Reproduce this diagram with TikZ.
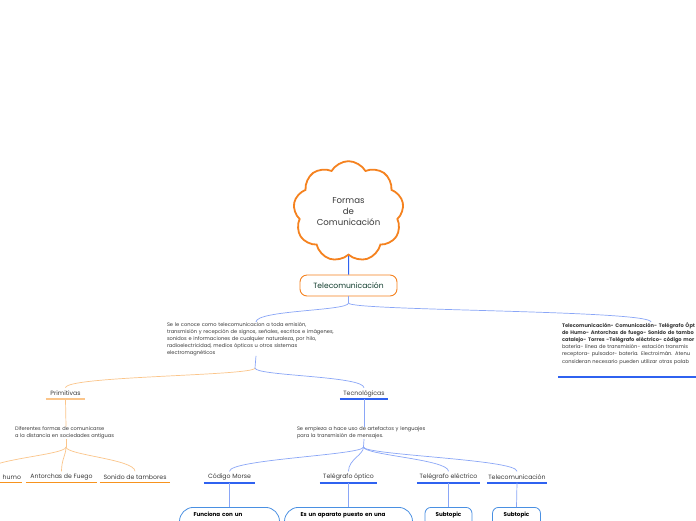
\documentclass[tikz,border=0pt]{standalone}
\usepackage{fontspec}
\setmainfont{Poppins}
\usetikzlibrary{shapes.symbols}
\definecolor{orng}{HTML}{F5821F}
\definecolor{lorng}{HTML}{FBC58A}
\definecolor{uorng}{HTML}{F7931E}
\definecolor{blu}{HTML}{2F62F0}
\definecolor{lblu}{HTML}{8AA6F7}
\definecolor{bxblu}{HTML}{4A90E2}
\definecolor{txt}{HTML}{3A3A3A}
\definecolor{dgreen}{HTML}{0E3B2B}
\tikzset{
  lb/.style={draw=lblu, line width=0.7pt},
  lo/.style={draw=lorng, line width=0.7pt},
  desc/.style={text width=#1, align=left, inner sep=0pt, text=txt, font=\fontsize{5.1}{7}\selectfont},
  topic/.style={inner sep=0pt, minimum height=11pt, text=txt, font=\fontsize{6.2}{7}\selectfont},
  ulb/.style={append after command={(\tikzlastnode.south west) edge[draw=blu, line width=1.6pt] (\tikzlastnode.south east)}},
  ulo/.style={append after command={(\tikzlastnode.south west) edge[draw=uorng, line width=1.5pt] (\tikzlastnode.south east)}},
  ullo/.style={append after command={(\tikzlastnode.south west) edge[draw=lorng, line width=1.5pt] (\tikzlastnode.south east)}},
  leaf/.style={draw=bxblu, line width=0.8pt, fill=white, anchor=north, inner ysep=4pt, text height=5pt, text depth=22pt, text=black, font=\fontsize{5.6}{7}\selectfont\bfseries},
}
\begin{document}
\begin{tikzpicture}[x=1pt,y=-1pt]
\useasboundingbox (0,0) rectangle (696,520);
\clip (0,0) rectangle (696,520);
\fill[white] (0,0) rectangle (696,520);

% root and main topic
\node[cloud, cloud puffs=9, cloud puff arc=120, aspect=1.15, draw=orng, line width=1.8pt, fill=white,
      minimum width=96pt, minimum height=80pt, align=center, text=txt,
      font=\fontsize{8.6}{11}\selectfont] (root) at (348.5,211.5) {Formas\\de\\Comunicación};
\node[rounded corners=7pt, draw=orng, line width=0.9pt, fill=white, minimum width=97pt, minimum height=21pt,
      text=dgreen, font=\fontsize{7.6}{9}\selectfont] (tele) at (348.5,285.5) {Telecomunicación};
\draw[draw=blu, line width=1pt] (root.south) -- (tele.north);

% descriptions level 1
\node[desc=178pt, anchor=north] (d1) at (256,322) {Se le conoce como telecomunicacion a toda emisión,\\
transmisión y recepción de signos, señales, escritos e imágenes,\\
sonidos e informaciones de cualquier naturaleza, por hilo,\\
radioelectricidad, medios ópticos u otros sistemas\\
electromagnéticos};
\node[desc=178pt, anchor=north, font=\fontsize{5.1}{7.2}\selectfont] (d4) at (651,322) {{\bfseries Telecomunicación- Comunicación- Telégrafo Ópt\\
de Humo- Antorchas de fuego- Sonido de tambo\\
catalejo- Torres -Telégrafo eléctrico- código mor}\\
batería- línea de transmisión- estación transmis\\
receptora- pulsador- batería. Electroimán. Atenu\\
consideran necesario pueden utilizar otras palab};
\draw[draw=blu, line width=2pt] (558,377) -- (700,377);

\coordinate (j1) at (348.5,303);
\draw[lb] (tele.south) -- (j1);
\draw[lb] (j1) .. controls +(0,8) and +(0,-12) .. (d1.north);
\draw[lb] (j1) .. controls +(0,8) and +(0,-12) .. (d4.north);

% level 2
\node[topic, ullo, minimum width=39pt] (prim) at (65.5,393.5) {Primitivas};
\node[topic, ulb, minimum width=48pt] (tech) at (364,393.5) {Tecnológicas};
\coordinate (j2) at (255,368);
\draw[lb] (d1.south) -- (j2);
\draw[lo] (j2) .. controls +(0,8) and +(0,-12) .. (prim.north);
\draw[lb] (j2) .. controls +(0,8) and +(0,-12) .. (tech.north);

\node[desc=102pt, anchor=north] (d2) at (66,426.5) {Diferentes formas de comunicarse\\a la distancia en sociedades antiguas};
\node[desc=134pt, anchor=north] (d3) at (364,426.5) {Se empieza a hace uso de artefactos y lenguajes\\para la transmisión de mensajes.};
\draw[lo] (prim.south) -- (d2.north);
\draw[lb] (tech.south) -- (d3.north);

% level 3 primitive
\node[topic, ulo, minimum width=72pt, text width=70pt, align=right] (humo) at (-14,477) {humo};
\node[topic, ulo, minimum width=71pt] (ant) at (61.5,477) {Antorchas de Fuego};
\node[topic, ulo, minimum width=70pt] (son) at (135,477) {Sonido de tambores};
\coordinate (j3) at (66,447);
\draw[lo] (d2.south) -- (j3);
\draw[lo] (j3) .. controls +(0,8) and +(0,-12) .. (humo.north);
\draw[lo] (j3) .. controls +(0,8) and +(0,-12) .. (ant.north);
\draw[lo] (j3) .. controls +(0,8) and +(0,-12) .. (son.north);

% level 3 technological
\node[topic, ulb, minimum width=51pt] (morse) at (229.5,477) {Código Morse};
\node[topic, ulb, minimum width=57pt] (opt) at (348.5,477) {Telégrafo óptico};
\node[topic, ulb, minimum width=63pt] (ele) at (448.5,477) {Telégrafo eléctrico};
\node[topic, ulb, minimum width=60pt] (tel2) at (517,477) {Telecomunicación};
\coordinate (j4) at (363.5,447);
\draw[lb] (d3.south) -- (j4);
\draw[lb] (j4) .. controls +(0,8) and +(0,-12) .. (morse.north);
\draw[lb] (j4) .. controls +(0,8) and +(0,-12) .. (opt.north);
\draw[lb] (j4) .. controls +(0,8) and +(0,-12) .. (ele.north);
\draw[lb] (j4) .. controls +(0,8) and +(0,-12) .. (tel2.north);

% leaves
\node[leaf, rounded corners=14pt, inner xsep=14pt, text width=72pt, align=left] (la) at (229.5,507) {Funciona con un};
\node[leaf, rounded corners=14pt, inner xsep=16pt, text width=96pt, align=left] (lb) at (348.5,507) {Es un aparato puesto en una};
\node[leaf, rounded corners=6pt, inner xsep=0pt, minimum width=47pt] (lc) at (448.5,507) {Subtopic};
\node[leaf, rounded corners=6pt, inner xsep=0pt, minimum width=48pt] (ld) at (516.5,507) {Subtopic};
\draw[lb] (morse.south) -- (la.north);
\draw[lb] (opt.south) -- (lb.north);
\draw[lb] (ele.south) -- (lc.north);
\draw[lb] (tel2.south) -- (ld.north);
\end{tikzpicture}
\end{document}
